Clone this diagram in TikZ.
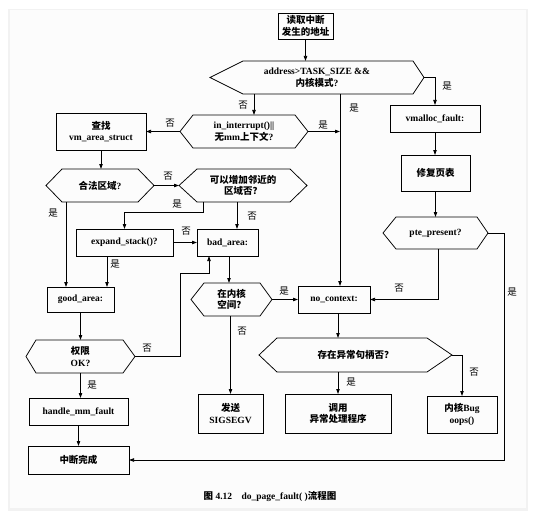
\documentclass[tikz,border=0pt]{standalone}
\usepackage{fontspec}
\setmainfont{Liberation Serif}
\newfontfamily\zhfont{Noto Sans CJK SC}
\newcommand{\zh}[1]{{\zhfont #1}}
\usepackage{tikz}
\usetikzlibrary{arrows.meta,calc,positioning}
\tikzset{
 pf line/.style={line width=.75pt},
 pf flow/.style={pf line,-{Triangle[length=5pt,width=3.4pt]}},
 pf box/.style={draw,pf line,rectangle,inner sep=0pt,outer sep=0pt,align=center,
                font=\fontsize{9.5}{11.5}\selectfont\bfseries},
 pf hex/.style={rectangle,inner sep=0pt,outer sep=0pt,align=center,
                font=\fontsize{9.5}{11.5}\selectfont\bfseries},
 pf note/.style={font=\zhfont\fontsize{9.5}{11}\selectfont,inner sep=0pt}
}

\begin{document}
\begin{tikzpicture}[x=1pt,y=-1pt]
 \useasboundingbox (0,0) rectangle (536,519);
 \fill[white] (0,0) rectangle (536,519);
 \fill[black!5] (8,9) rectangle (528,511);
 \fill[black!1] (10,10) rectangle (526,508);

 \node[pf box,minimum width=55,minimum height=26] (read) at (305.5,26) {\zh{读取中断}\\\zh{发生的地址}};
 \node[pf hex,minimum width=214,minimum height=33] (addr) at (317,77.5) {address>TASK\_SIZE \&\&\\\zh{内核模式}?};
 \node[pf hex,minimum width=128,minimum height=33] (intr) at (244,131.5) {in\_interrupt()||\\\zh{无}mm\zh{上下文}?};
 \node[pf box,minimum width=90,minimum height=27] (vmf) at (435,118.5) {vmalloc\_fault:};
 \node[pf box,minimum width=90,minimum height=37] (find) at (101,131.5) {\zh{查找}\\vm\_area\_struct};
 \node[pf hex,minimum width=108,minimum height=33] (legal) at (100,185.5) {\zh{合法区域}?};
 \node[pf hex,minimum width=128,minimum height=33] (grow) at (243,185.5) {\zh{可以增加邻近的}\\\zh{区域否？}};
 \node[pf box,minimum width=69,minimum height=36] (fix) at (435.5,173) {\zh{修复页表}};
 \node[pf hex,minimum width=105,minimum height=32] (pte) at (435.5,233) {pte\_present?};
 \node[pf box,minimum width=97,minimum height=27] (expand) at (124.5,242.5) {expand\_stack()?};
 \node[pf box,minimum width=61,minimum height=27] (bad) at (227.5,242.5) {bad\_area:};
 \node[pf box,minimum width=67,minimum height=25] (good) at (80.5,299.5) {good\_area:};
 \node[pf hex,minimum width=81,minimum height=33] (kern) at (231.5,299.5) {\zh{在内核}\\\zh{空间？}};
 \node[pf box,minimum width=72,minimum height=27] (noctx) at (334,299.5) {no\_context:};
 \node[pf hex,minimum width=109,minimum height=33] (perm) at (80.5,356.5) {\zh{权限}\\OK?};
 \node[pf hex,minimum width=193,minimum height=34] (exc) at (355.5,355) {\zh{存在异常句柄否？}};
 \node[pf box,minimum width=99,minimum height=27] (mmf) at (78.5,411.5) {handle\_mm\_fault};
 \node[pf box,minimum width=65,minimum height=39] (sig) at (230.5,413.5) {\zh{发送}\\SIGSEGV};
 \node[pf box,minimum width=106,minimum height=39] (call) at (338,413.5) {\zh{调用}\\\zh{异常处理程序}};
 \node[pf box,minimum width=70,minimum height=37] (oops) at (462,414.5) {\zh{内核}Bug\\oops()};
 \node[pf box,minimum width=101,minimum height=28] (done) at (78.5,460) {\zh{中断完成}};
 \node[font=\fontsize{9.5}{11}\selectfont\bfseries] (cap) at (270,496) {\zh{图} 4.12\quad do\_page\_fault( )\zh{流程图}};

 \foreach \h/\dl/\dr in {addr/33/11,intr/13/13,legal/16/16,grow/18/17,pte/13/11,kern/13/12,perm/10/12,exc/18/25}
  \draw[pf line] ([xshift=\dl]\h.north west) -- ([xshift=-\dr]\h.north east) -- (\h.east)
   -- ([xshift=-\dr]\h.south east) -- ([xshift=\dl]\h.south west) -- (\h.west) -- cycle;

 \coordinate (k1) at ([xshift=6]noctx.north |- addr.south);
 \draw[pf flow] (read) -- (read |- addr.north);
 \draw[pf flow] (addr.east) -| (vmf.north);
 \draw[pf flow] ([xshift=10]intr.north |- addr.south) -- ([xshift=10]intr.north);
 \draw[pf flow] (k1) -- ([xshift=6]noctx.north);
 \draw[pf flow] (intr.east) -- (intr.east -| k1);
 \draw[pf flow] (intr.west) -- (find.east);
 \draw[pf flow] (find) -- (find |- legal.north);
 \draw[pf flow] (legal.east) -- (grow.west);
 \draw[pf flow] ([xshift=-14.5]good.north |- legal.south) -- ([xshift=-14.5]good.north);
 \draw[pf flow] ([xshift=-40]grow.south) -- ++(0,10) -| (expand.north);
 \draw[pf flow] ([xshift=9.5]bad.north |- grow.south) -- ([xshift=9.5]bad.north);
 \draw[pf flow] (expand.east) -- (bad.west);
 \draw[pf flow] ([xshift=26.5]good.north |- expand.south) -- ([xshift=26.5]good.north);
 \draw[pf flow] (good) -- (good |- perm.north);
 \draw[pf flow] (perm.east) -- ++(45,0) -- ++(0,-83.5) -| ([xshift=-18.5]bad.south);
 \draw[pf flow] (perm) -- (perm |- mmf.north);
 \draw[pf flow] (mmf) -- (mmf |- done.north);
 \draw[pf flow] ([xshift=1.5]bad.south) -- ([xshift=1.5]bad.south |- kern.north);
 \draw[pf flow] (kern.east) -- (noctx.west);
 \draw[pf flow] (sig.north |- kern.south) -- (sig.north);
 \draw[pf flow] (vmf) -- (vmf |- fix.north);
 \draw[pf flow] (fix) -- (fix |- pte.north);
 \draw[pf flow] ([xshift=2.5]pte.south) |- (noctx.east);
 \draw[pf flow] (pte.east) -- ++(16,0) |- (done.east);
 \draw[pf flow] (call.north |- noctx.south) -- (call.north |- exc.north);
 \draw[pf flow] (call.north |- exc.south) -- (call.north);
 \draw[pf flow] (exc.east) -| (oops.north);

 \foreach \t/\x/\y [count=\i] in {是/447/86,否/243/105,是/354/108,是/323/125,否/170/123,
   否/168/176,是/53/213,是/177/204,否/252/216,否/186/231,是/115/264,否/147/348,
   是/92/385,是/284/291,否/242/331,否/399/288,是/512/292,是/351/382,否/474/372}
  \node[pf note] (lab\i) at (\x,\y) {\t};
\end{tikzpicture}
\end{document}
